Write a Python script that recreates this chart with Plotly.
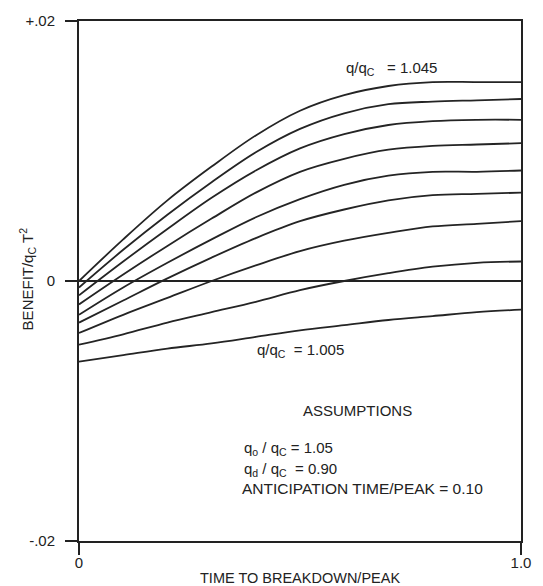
import plotly.graph_objects as go

# Time to breakdown / peak
t_vals = [0.0, 0.1, 0.2, 0.3, 0.4, 0.5, 0.6, 0.7, 0.8, 0.9, 1.0]

# Benefit / (q_c T^2) for each q/q_c curve
q_1045 = [0.0000, 0.0032, 0.0062, 0.0088, 0.0112, 0.0131, 0.0143, 0.0150, 0.0153, 0.0153, 0.0153]
q_1040 = [-0.0005, 0.0024, 0.0051, 0.0076, 0.0099, 0.0117, 0.0129, 0.0136, 0.0138, 0.0139, 0.0140]
q_1035 = [-0.0011, 0.0015, 0.0040, 0.0064, 0.0085, 0.0102, 0.0113, 0.0120, 0.0123, 0.0124, 0.0124]
q_1030 = [-0.0018, 0.0005, 0.0027, 0.0048, 0.0068, 0.0084, 0.0094, 0.0101, 0.0104, 0.0105, 0.0106]
q_1025 = [-0.0026, -0.0005, 0.0014, 0.0032, 0.0049, 0.0063, 0.0074, 0.0081, 0.0084, 0.0084, 0.0085]
q_1020 = [-0.0032, -0.0015, 0.0002, 0.0018, 0.0033, 0.0046, 0.0055, 0.0062, 0.0066, 0.0067, 0.0068]
q_1015 = [-0.0040, -0.0026, -0.0013, 0.0000, 0.0012, 0.0023, 0.0031, 0.0037, 0.0042, 0.0044, 0.0046]
q_1010 = [-0.0049, -0.0041, -0.0032, -0.0024, -0.0016, -0.0007, 0.0000, 0.0006, 0.0011, 0.0014, 0.0015]
q_1005 = [-0.0062, -0.0057, -0.0052, -0.0048, -0.0043, -0.0038, -0.0034, -0.0030, -0.0027, -0.0024, -0.0022]

series = {
    "1.045": q_1045, "1.040": q_1040, "1.035": q_1035, "1.030": q_1030,
    "1.025": q_1025, "1.020": q_1020, "1.015": q_1015, "1.010": q_1010,
    "1.005": q_1005,
}

x_tickvals = [0, 1]
x_ticktext = ["0", "1.0"]
y_tickvals = [-0.02, 0, 0.02]
y_ticktext = ["-.02", "0", "+.02"]

FONT = "Liberation Sans, Arial, Helvetica, sans-serif"
INK = "#222222"
NB = "\u00a0"

fig = go.Figure()
for name, vals in series.items():
    fig.add_trace(go.Scatter(
        x=t_vals, y=vals, mode="lines", name="q/qc = " + name,
        line=dict(color="#242424", width=1.8, shape="spline", smoothing=1.0),
        showlegend=False, hoverinfo="skip",
    ))

fig.update_layout(
    width=543, height=586,
    margin=dict(l=79, r=18, t=13, b=45),
    paper_bgcolor="white", plot_bgcolor="white",
    font=dict(family=FONT, size=15, color=INK),
    showlegend=False,
)
fig.update_xaxes(
    range=[0, 1], tickvals=x_tickvals, ticktext=x_ticktext,
    ticks="outside", ticklen=12, tickwidth=2, tickcolor=INK,
    showline=True, linewidth=2, linecolor=INK, mirror=True,
    showgrid=False, zeroline=False, tickfont=dict(size=15, color=INK),
    ticklabelstandoff=-5,
)
fig.update_yaxes(
    range=[-0.02, 0.02], tickvals=y_tickvals, ticktext=y_ticktext,
    ticks="outside", ticklen=12, tickwidth=2, tickcolor=INK,
    showline=True, linewidth=2, linecolor=INK, mirror=True,
    showgrid=False, zeroline=True, zerolinewidth=2, zerolinecolor=INK,
    tickfont=dict(size=15, color=INK), ticklabelstandoff=7,
)

ann = [
    dict(x=0.599, y=0.01632, xref="x", yref="y", xanchor="left", yanchor="middle",
         text="q/q<sub>C</sub>" + NB * 3 + "=" + NB + "1.045", showarrow=False),
    dict(x=0.399, y=-0.00537, xref="x", yref="y", xanchor="left", yanchor="middle",
         text="q/q<sub>C</sub>" + NB * 2 + "=" + NB + "1.005", showarrow=False),
    dict(x=0.630, y=-0.00999, xref="x", yref="y", xanchor="center", yanchor="middle",
         text="ASSUMPTIONS", showarrow=False),
    dict(x=0.368, y=-0.01287, xref="x", yref="y", xanchor="left", yanchor="middle",
         text="q<sub>o</sub> / q<sub>C</sub> = 1.05", showarrow=False),
    dict(x=0.368, y=-0.01447, xref="x", yref="y", xanchor="left", yanchor="middle",
         text="q<sub>d</sub> / q<sub>C</sub>" + NB * 2 + "=" + NB + "0.90", showarrow=False),
    dict(x=0.365, y=-0.01598, xref="x", yref="y", xanchor="left", yanchor="middle",
         text="ANTICIPATION TIME/PEAK" + NB + "=" + NB + "0.10", showarrow=False,
         font=dict(size=15.5)),
    dict(x=0.5, y=-0.072, xref="paper", yref="paper", xanchor="center", yanchor="middle",
         text="TIME TO BREAKDOWN/PEAK", showarrow=False, font=dict(size=14.5)),
    dict(x=-0.1166, y=0.504, xref="paper", yref="paper", xanchor="center", yanchor="middle",
         text="BENEFIT/q<sub>C</sub> T<sup>2</sup>", textangle=-90, showarrow=False),
]
fig.update_layout(annotations=ann)

fig.write_html(
    "out.html",
    config={"displayModeBar": False},
    post_script="document.body.style.margin='0';document.body.style.padding='0';",
)
